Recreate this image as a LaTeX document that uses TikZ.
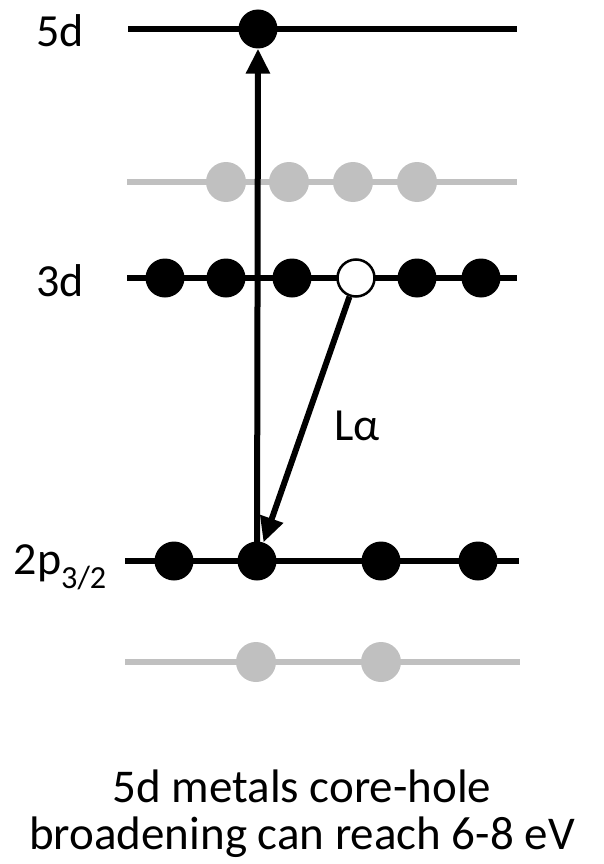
\documentclass[tikz,border=0pt]{standalone}
\usepackage{fontspec}
\setmainfont{Carlito}
\usetikzlibrary{arrows.meta,backgrounds}
\definecolor{lightgray}{RGB}{192,192,192}
\tikzset{
  level/.style={line width=5.5pt},
  glevel/.style={line width=5.5pt, draw=lightgray},
  el/.style={circle, fill=black, minimum size=39pt, inner sep=0pt},
  gel/.style={circle, fill=lightgray, minimum size=40pt, inner sep=0pt},
  hole/.style={circle, fill=white, draw=black, line width=2.5pt, minimum size=37pt, inner sep=0pt},
  arr/.style={line width=6pt, -{Triangle[length=25pt,width=23pt]}},
  lbl/.style={font=\fontsize{46}{52}\selectfont, inner sep=0pt},
  captext/.style={font=\fontsize{47}{53}\selectfont, inner sep=0pt, align=center}
}
\begin{document}
\begin{tikzpicture}[x=1pt,y=-1pt]
\useasboundingbox (0,0) rectangle (603,864);
% electrons
\node[el] (d5) at (258,29) {};
\node[gel] (g1) at (226,182) {};
\node[gel] (g2) at (289,182) {};
\node[gel] (g3) at (353,182) {};
\node[gel] (g4) at (417,182) {};
\node[el] (a1) at (165,278) {};
\node[el] (a2) at (226,278) {};
\node[el] (a3) at (292,278) {};
\node[hole] (h) at (356,278) {};
\node[el] (a5) at (417,278) {};
\node[el] (a6) at (481,278) {};
\node[el] (p1) at (174,561) {};
\node[el] (p2) at (257,561) {};
\node[el] (p3) at (381,561) {};
\node[el] (p4) at (478,561) {};
\node[gel] (b1) at (256,662) {};
\node[gel] (b2) at (381,662) {};
\begin{scope}[on background layer]
\draw[level] (128,29) -- (517,29);
\draw[glevel] (127,182) -- (517,182);
\draw[level] (127,278) -- (517,278);
\draw[level] (125,561) -- (519,561);
\draw[glevel] (125,662) -- (520,662);
\draw[arr] (p2.center) -- (d5.south);
\end{scope}
\draw[arr] (h) -- (p2);
% labels
\node[lbl, anchor=east] (l5d) at (84,31) {5d};
\node[lbl, anchor=east] (l3d) at (84,281) {3d};
\node[lbl, anchor=east] (l2p) at (107,567) {2p\textsubscript{3/2}};
\node[lbl] (la) at (357,426) {Lα};
\node[captext] (c1) at (302,786) {5d metals core-hole};
\node[captext] (c2) at (302,837) {broadening can reach 6-8 eV};
\end{tikzpicture}
\end{document}
